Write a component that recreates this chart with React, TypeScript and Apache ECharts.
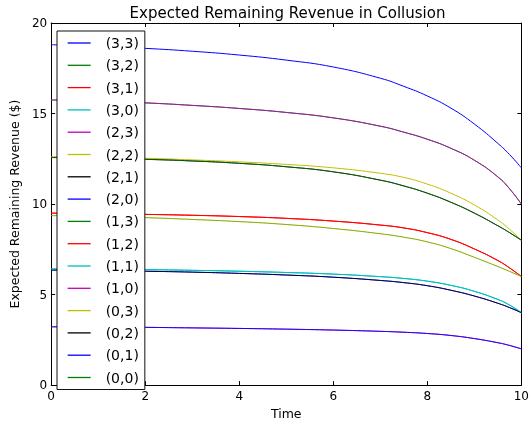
import React, { useEffect, useRef } from 'react';
import * as echarts from 'echarts';

const times = [0, 1, 2, 3, 4, 5, 6, 7, 7.5, 8, 8.5, 9, 9.5, 9.75, 10];

const curveTop = [18.8, 18.72, 18.6, 18.44, 18.23, 17.95, 17.57, 16.95, 16.5, 15.97, 15.3, 14.42, 13.35, 12.73, 12.0];
const curveMagenta = [15.75, 15.69, 15.59, 15.45, 15.28, 15.06, 14.76, 14.3, 13.97, 13.58, 13.08, 12.42, 11.5, 10.84, 10.0];
const curveYellow = [12.62, 12.59, 12.53, 12.44, 12.33, 12.19, 12.0, 11.7, 11.47, 11.1, 10.6, 9.95, 9.12, 8.6, 8.0];
const curveDarkGreen = [12.57, 12.53, 12.47, 12.38, 12.25, 12.06, 11.78, 11.32, 11.0, 10.6, 10.1, 9.5, 8.8, 8.42, 8.0];
const curveRed = [9.5, 9.47, 9.43, 9.38, 9.31, 9.21, 9.06, 8.84, 8.68, 8.42, 8.05, 7.52, 6.88, 6.47, 6.0];
const curveYellowGreen = [9.36, 9.32, 9.25, 9.15, 9.03, 8.87, 8.65, 8.36, 8.17, 7.91, 7.54, 7.06, 6.55, 6.28, 6.0];
const curveCyan = [6.42, 6.41, 6.38, 6.34, 6.29, 6.22, 6.13, 5.99, 5.89, 5.74, 5.51, 5.18, 4.73, 4.42, 4.0];
const curveNavy = [6.35, 6.33, 6.29, 6.24, 6.17, 6.08, 5.96, 5.78, 5.66, 5.49, 5.24, 4.92, 4.52, 4.28, 4.0];
const curveBlueLow = [3.22, 3.21, 3.19, 3.16, 3.13, 3.09, 3.04, 2.97, 2.92, 2.85, 2.74, 2.57, 2.34, 2.19, 2.0];

const seriesNames = ['(3,3)', '(3,2)', '(3,1)', '(3,0)', '(2,3)', '(2,2)', '(2,1)', '(2,0)', '(1,3)', '(1,2)', '(1,1)', '(1,0)', '(0,3)', '(0,2)', '(0,1)', '(0,0)'];
const seriesColors = ['#0000ff', '#008000', '#ff0000', '#00bfbf', '#bf00bf', '#bfbf00', '#000000', '#0000ff', '#008000', '#ff0000', '#00bfbf', '#bf00bf', '#bfbf00', '#000000', '#0000ff', '#008000'];
const seriesValues = [curveTop, curveMagenta, curveRed, curveCyan, curveMagenta, curveYellow, curveDarkGreen, curveNavy, curveDarkGreen, curveRed, curveCyan, curveBlueLow, curveYellowGreen, curveNavy, curveBlueLow, curveYellowGreen];
const seriesOpacity = [1, 1, 1, 1, 0.85, 1, 1, 1, 0.7, 1, 1, 1, 1, 0.75, 0.85, 0.3];

const FONT = 'DejaVu Sans';

export default function App() {
  const ref = useRef<HTMLDivElement>(null);
  useEffect(() => {
    if (!ref.current) return;
    const chart = echarts.init(ref.current, undefined, { renderer: 'svg' });
    const axisCommon = {
      axisLine: { show: true, onZero: false, lineStyle: { color: '#000', width: 1 } },
      axisTick: { show: true, inside: true, length: 4, lineStyle: { color: '#000', width: 1 } },
      splitLine: { show: false },
    };
    chart.setOption({
      animation: false,
      textStyle: { fontFamily: FONT },
      graphic: [
        {
          type: 'text',
          x: 287.5,
          y: 13,
          style: {
            text: 'Expected Remaining Revenue in Collusion',
            fontSize: 15,
            fontFamily: FONT,
            fill: '#000',
            align: 'center',
            verticalAlign: 'middle',
          },
        },
      ],
      grid: { left: 48, right: 5, top: 23, bottom: 34, containLabel: false },
      legend: {
        orient: 'vertical',
        left: 57,
        top: 31,
        padding: [5, 6, 5, 10],
        itemWidth: 23,
        itemHeight: 14,
        itemGap: 8.3,
        backgroundColor: '#fff',
        borderColor: '#111',
        borderWidth: 1,
        borderRadius: 0,
        selectedMode: false,
        itemStyle: { opacity: 0 },
        lineStyle: { width: 1.3, opacity: 1 },
        textStyle: { fontSize: 14, fontFamily: FONT, color: '#000', padding: [0, 0, 0, 10], lineHeight: 14 },
        data: seriesNames,
      },
      xAxis: [
        {
          type: 'value',
          min: 0,
          max: 10,
          interval: 2,
          position: 'bottom',
          ...axisCommon,
          axisLabel: { fontSize: 12, color: '#000', margin: 5, fontFamily: FONT },
          name: 'Time',
          nameLocation: 'middle',
          nameGap: 17,
          nameTextStyle: { fontSize: 12.5, color: '#000', fontFamily: FONT },
        },
        {
          type: 'value',
          min: 0,
          max: 10,
          interval: 2,
          position: 'top',
          ...axisCommon,
          axisLabel: { show: false },
        },
      ],
      yAxis: [
        {
          type: 'value',
          min: 0,
          max: 20,
          interval: 5,
          position: 'left',
          ...axisCommon,
          axisLabel: { fontSize: 12, color: '#000', margin: 4, fontFamily: FONT },
          name: 'Expected Remaining Revenue ($)',
          nameLocation: 'middle',
          nameGap: 23,
          nameTextStyle: { fontSize: 12.5, color: '#000', fontFamily: FONT },
        },
        {
          type: 'value',
          min: 0,
          max: 20,
          interval: 5,
          position: 'right',
          ...axisCommon,
          axisLabel: { show: false },
        },
      ],
      series: seriesNames.map((name, i) => ({
        name,
        type: 'line',
        xAxisIndex: 0,
        yAxisIndex: 0,
        showSymbol: false,
        symbol: 'none',
        smooth: 0.5,
        color: seriesColors[i],
        lineStyle: { color: seriesColors[i], width: 1, opacity: seriesOpacity[i] },
        emphasis: { disabled: true },
        data: times.map((t, j) => [t, seriesValues[i][j]]),
      })),
    });
    return () => chart.dispose();
  }, []);
  return <div ref={ref} style={{ position: 'fixed', left: 0, top: 0, width: 532, height: 425 }} />;
}
